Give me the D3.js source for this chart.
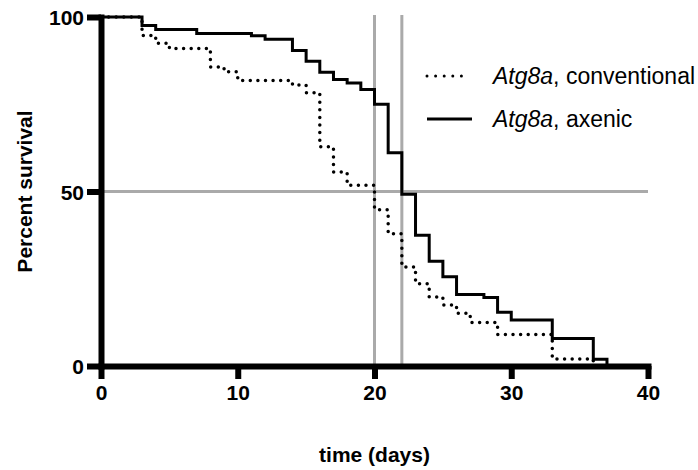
<!DOCTYPE html>
<html>
<head>
<meta http-equiv="content-type" content="text/html; charset=UTF8">
<script src="https://cdn.jsdelivr.net/npm/d3@7"></script>
<style>
body {
	margin: 0;
	background: #fff;
}
.chart text {
	font-family: "Liberation Sans", Arial, sans-serif;
	fill: #000;
}
.axis text {
	font-weight: bold;
	font-size: 21px;
}
.axis path, .axis line {
	stroke: #000;
	stroke-width: 6;
}
</style>
</head>
<body>
<svg class="chart" width="698" height="470"></svg>
</body>
<script>
// survival curves (time in days, percent survival)
var conventionalTimes = [0, 3, 4, 5, 8, 9, 10, 14, 15, 16, 17, 18, 20, 21, 22, 23, 24, 25, 26, 27, 29, 33, 36];
var conventionalSurvival = [100, 94.7, 92.5, 91, 85.7, 84.3, 81.8, 80.5, 78.3, 62.8, 55.6, 51.8, 44.8, 37.9, 28.4, 23.6, 19.8, 17.5, 15.1, 12.5, 9, 2, 0];

var axenicTimes = [0, 3, 4, 7, 11, 12, 14, 15, 16, 17, 18, 19, 20, 21, 22, 23, 24, 25, 26, 28, 29, 30, 33, 36, 37];
var axenicSurvival = [100, 97.6, 96.4, 95.3, 94.6, 93.6, 90.4, 87.3, 84.2, 82.1, 81.1, 79.2, 75, 61.1, 49.2, 37.5, 30, 25.6, 20.5, 19.6, 15.4, 13.2, 7.9, 1.9, 0];

var medianLines = [20, 22];   // grey verticals at the median survival times
var halfLine = 50;
var xTicks = [0, 10, 20, 30, 40];
var yTicks = [0, 50, 100];
var legendLabels = ["conventional", "axenic"];

var svg = d3.select(".chart");

var x = d3.scaleLinear().domain([0, 40]).range([101, 648]);
var y = d3.scaleLinear().domain([0, 100]).range([366, 17]);

function pairs(times, vals) {
	return times.map(function(t, i) { return [t, vals[i]]; });
}

var line = d3.line()
	.x(function(d) { return x(d[0]); })
	.y(function(d) { return y(d[1]); })
	.curve(d3.curveStepAfter);

// grey reference lines
svg.append("line")
	.attr("x1", x(0)).attr("x2", x(40))
	.attr("y1", y(halfLine)).attr("y2", y(halfLine))
	.attr("stroke", "#aaa").attr("stroke-width", 3);

svg.selectAll(".median")
	.data(medianLines)
	.enter()
	.append("line")
	.attr("class", "median")
	.attr("x1", function(d) { return x(d); })
	.attr("x2", function(d) { return x(d); })
	.attr("y1", y(100) - 2)
	.attr("y2", y(0))
	.attr("stroke", "#aaa").attr("stroke-width", 3);

// curves
svg.append("path")
	.datum(pairs(conventionalTimes, conventionalSurvival))
	.attr("d", line)
	.attr("fill", "none")
	.attr("stroke", "#000")
	.attr("stroke-width", 3.5)
	.attr("stroke-linecap", "round")
	.attr("stroke-dasharray", "0 7.6");

svg.append("path")
	.datum(pairs(axenicTimes, axenicSurvival))
	.attr("d", line)
	.attr("fill", "none")
	.attr("stroke", "#000")
	.attr("stroke-width", 3);

// axes
var xAxis = svg.append("g")
	.attr("class", "axis")
	.attr("transform", "translate(0," + y(0) + ")")
	.call(d3.axisBottom(x).tickValues(xTicks).tickSize(13).tickSizeOuter(0).tickPadding(6));

var yAxis = svg.append("g")
	.attr("class", "axis")
	.attr("transform", "translate(" + x(0) + ",0)")
	.call(d3.axisLeft(y).tickValues(yTicks).tickSize(14).tickSizeOuter(0).tickPadding(3));

xAxis.select(".domain").attr("stroke-linecap", "square");
yAxis.select(".domain").attr("stroke-linecap", "square");
yAxis.selectAll(".tick line").attr("stroke-width", 5);
yAxis.selectAll(".tick text").attr("dy", "0.36em");

// axis titles
svg.append("text")
	.attr("x", x(20))
	.attr("y", 462)
	.attr("text-anchor", "middle")
	.style("font-size", "21px")
	.style("font-weight", "bold")
	.text("time (days)");

svg.append("text")
	.attr("transform", "translate(32," + y(50) + ") rotate(-90)")
	.attr("text-anchor", "middle")
	.style("font-size", "21px")
	.style("font-weight", "bold")
	.text("Percent survival");

// legend
var legend = svg.selectAll(".legend")
	.data(legendLabels)
	.enter()
	.append("g")
	.attr("class", "legend")
	.attr("transform", function(d, i) { return "translate(427," + (76 + i * 43) + ")"; });

legend.append("line")
	.attr("x1", 0).attr("x2", function(d, i) { return i == 0 ? 43 : 45; })
	.attr("stroke", "#000")
	.attr("stroke-width", 3)
	.attr("stroke-linecap", function(d, i) { return i == 0 ? "round" : "butt"; })
	.attr("stroke-dasharray", function(d, i) { return i == 0 ? "0 8.6" : null; });

var lt = legend.append("text")
	.attr("x", 66)
	.attr("y", 8)
	.style("font-size", "23px");
lt.append("tspan").style("font-style", "italic").text("Atg8a");
lt.append("tspan").text(function(d) { return ", " + d; });
</script>
</html>
